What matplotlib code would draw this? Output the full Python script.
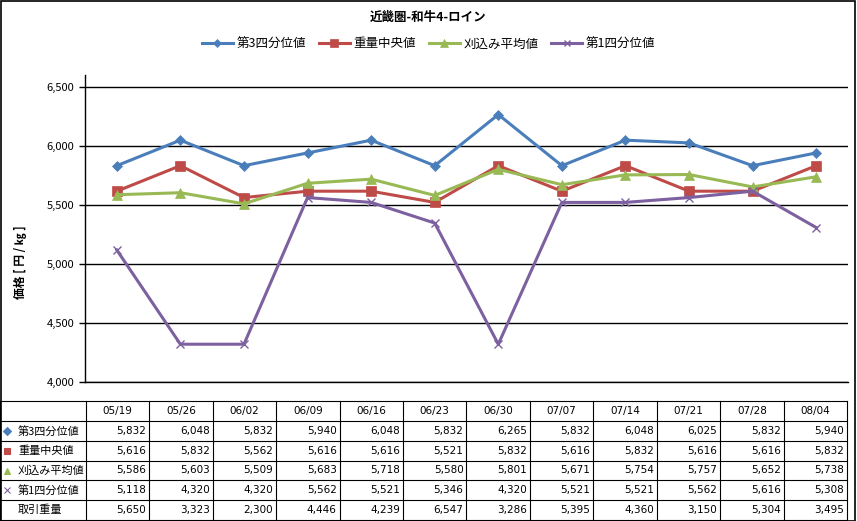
import matplotlib.pyplot as plt
from matplotlib.patches import Rectangle

plt.rcParams['font.family'] = ['Noto Sans CJK JP', 'DejaVu Sans']

dates = ['05/19', '05/26', '06/02', '06/09', '06/16', '06/23',
         '06/30', '07/07', '07/14', '07/21', '07/28', '08/04']
q3 = [5832, 6048, 5832, 5940, 6048, 5832, 6265, 5832, 6048, 6025, 5832, 5940]
median = [5616, 5832, 5562, 5616, 5616, 5521, 5832, 5616, 5832, 5616, 5616, 5832]
trim_mean = [5586, 5603, 5509, 5683, 5718, 5580, 5801, 5671, 5754, 5757, 5652, 5738]
q1 = [5118, 4320, 4320, 5562, 5521, 5346, 4320, 5521, 5521, 5562, 5616, 5308]
volume = [5650, 3323, 2300, 4446, 4239, 6547, 3286, 5395, 4360, 3150, 5304, 3495]

series = [
    ('第3四分位値', q3, '#4a7ebb', 'D', 5),
    ('重量中央値', median, '#be4b48', 's', 7),
    ('刈込み平均値', trim_mean, '#98b954', '^', 7),
    ('第1四分位値', q1, '#7d60a0', 'x', 6),
]
row_labels = [s[0] for s in series] + ['取引重量']
row_values = [s[1] for s in series] + [volume]

W, H = 857, 521
fig = plt.figure(figsize=(W / 100, H / 100), dpi=100)

# main plot area
ax = fig.add_axes([85 / W, (H - 382) / H, (848 - 85) / W, (382 - 75) / H])
x = list(range(len(dates)))
handles = []
for name, vals, color, marker, ms in series:
    h, = ax.plot(x, vals, color=color, lw=2.2, marker=marker, ms=ms,
                 mew=1.0 if marker == 'x' else 0.5, mec=color, label=name)
    handles.append(h)

ax.set_xlim(-0.5, len(dates) - 0.5)
ax.set_ylim(4000, 6600)
ax.set_yticks(range(4000, 6501, 500))
ax.set_yticklabels([f'{v:,}' for v in range(4000, 6501, 500)], fontsize=8)
ax.yaxis.grid(True, color='black', lw=1)
ax.set_axisbelow(True)
ax.set_xticks([])
ax.tick_params(axis='y', length=4, width=1, color='black')
for side in ['top', 'right']:
    ax.spines[side].set_visible(False)
ax.spines['left'].set_linewidth(1)
ax.spines['bottom'].set_linewidth(1)

fig.text(20 / W, 1 - 262 / H, '価格 [ 円 / ㎏ ]', rotation=90, fontsize=8.5,
         fontweight='bold', ha='center', va='center')
fig.text(0.5, 1 - 17 / H, '近畿圏-和牛4-ロイン', fontsize=9, fontweight='bold',
         ha='center', va='center')
fig.legend(handles=handles, loc='center', bbox_to_anchor=(0.5, 1 - 44 / H),
           ncol=4, frameon=False, fontsize=9, handlelength=2.5, markerscale=0.8,
           columnspacing=1.0, handletextpad=0.3)

# data table below the plot
tax = fig.add_axes([0, 0, 1, 1])
tax.set_xlim(0, W)
tax.set_ylim(H, 0)
tax.axis('off')
left_col = 86
col_w = (847 - left_col) / len(dates)
row_y = [401, 421, 441, 461, 480, 500, 520]
for y in row_y:
    tax.plot([0, 847], [y, y], color='black', lw=0.8)
tax.plot([0, 0], [row_y[0], row_y[-1]], color='black', lw=0.8)
for i in range(len(dates) + 1):
    xx = left_col + i * col_w
    tax.plot([xx, xx], [row_y[0], row_y[-1]], color='black', lw=0.8)

for i, d in enumerate(dates):
    tax.text(left_col + (i + 0.5) * col_w, (row_y[0] + row_y[1]) / 2, d,
             fontsize=7.5, ha='center', va='center', family='DejaVu Sans')

for r, (lab, vals) in enumerate(zip(row_labels, row_values)):
    yc = (row_y[r + 1] + row_y[r + 2]) / 2
    if r < len(series):
        _, _, color, marker, ms = series[r]
        tax.plot([7], [yc], marker=marker, color=color, ms=4 if marker != 'x' else 4,
                 mew=0.8, ls='none')
    tax.text(18, yc, lab, fontsize=8, ha='left', va='center')
    for i, v in enumerate(vals):
        tax.text(left_col + (i + 1) * col_w - 3, yc, f'{v:,}', fontsize=7.5,
                 ha='right', va='center', family='DejaVu Sans')

# outer border
tax.add_patch(Rectangle((0.5, 0.5), W - 2, H - 1, fill=False, ec='black', lw=1.2))

fig.savefig('out.png', dpi=100)
